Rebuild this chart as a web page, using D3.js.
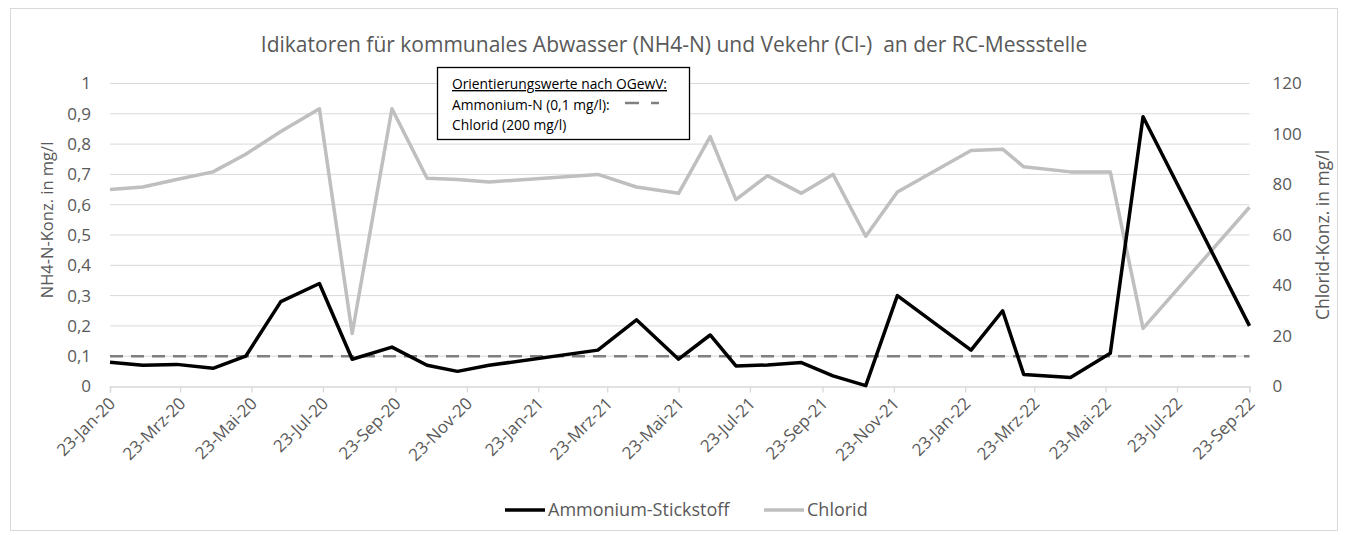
<!DOCTYPE html>
<html>
<head>
<meta charset="utf-8">
<script src="https://cdn.jsdelivr.net/npm/d3@7"></script>
<style>
  body { margin: 0; background: #fff; }
  svg text { font-family: "Open Sans", "Noto Sans", sans-serif; }
</style>
</head>
<body>
<svg id="chart"></svg>
<script>
// sampling dates
const dates = [
  "2020-01-23", "2020-02-20", "2020-03-20", "2020-04-20", "2020-05-18", "2020-06-17",
  "2020-07-20", "2020-08-17", "2020-09-20", "2020-10-20", "2020-11-15", "2020-12-12",
  "2021-03-15", "2021-04-17", "2021-05-23", "2021-06-19", "2021-07-11", "2021-08-07",
  "2021-09-05", "2021-10-02", "2021-10-30", "2021-11-26", "2022-01-28", "2022-02-24",
  "2022-03-14", "2022-04-23", "2022-05-27", "2022-06-24", "2022-09-23"
];
const ammonium = [
  0.08, 0.07, 0.073, 0.06, 0.1, 0.28,
  0.34, 0.09, 0.13, 0.07, 0.05, 0.07,
  0.12, 0.22, 0.09, 0.17, 0.068, 0.071,
  0.079, 0.035, 0.003, 0.3, 0.12, 0.25,
  0.04, 0.03, 0.11, 0.89, 0.2
];
const chlorid = [
  78, 79, 82, 85, 92, 101,
  110, 21, 110, 82.5, 82, 81,
  84, 79, 76.5, 99, 74, 83.5,
  76.5, 84, 59.5, 77, 93.5, 94,
  87, 85, 85, 23, 71
];
const xTickLabels = [
  "23-Jan-20", "23-Mrz-20", "23-Mai-20", "23-Jul-20", "23-Sep-20", "23-Nov-20",
  "23-Jan-21", "23-Mrz-21", "23-Mai-21", "23-Jul-21", "23-Sep-21", "23-Nov-21",
  "23-Jan-22", "23-Mrz-22", "23-Mai-22", "23-Jul-22", "23-Sep-22"
];
const leftTicks = [0, 0.1, 0.2, 0.3, 0.4, 0.5, 0.6, 0.7, 0.8, 0.9, 1];
const rightTicks = [0, 20, 40, 60, 80, 100, 120];
const guideValue = 0.1;

const svgWidth = 1347;
const svgHeight = 535;
const plot = { left: 110, right: 1249.5, top: 83.5, bottom: 386.5 };

const months = { Jan: 0, Feb: 1, Mrz: 2, Apr: 3, Mai: 4, Jun: 5, Jul: 6, Aug: 7, Sep: 8, Okt: 9, Nov: 10, Dez: 11 };
const parseTick = (s) => {
  const [d, m, y] = s.split("-");
  return new Date(2000 + +y, months[m], +d);
};
const parseDate = d3.timeParse("%Y-%m-%d");
const tickDates = xTickLabels.map(parseTick);

const svg = d3.select("#chart").attr("width", svgWidth).attr("height", svgHeight);

svg.append("rect")
  .attr("x", 10.5).attr("y", 8.5)
  .attr("width", 1327).attr("height", 522)
  .attr("fill", "#fff")
  .attr("stroke", "#d9d9d9");

const x = d3.scaleTime()
  .domain([tickDates[0], tickDates[tickDates.length - 1]])
  .range([plot.left, plot.right]);

const yLeft = d3.scaleLinear().domain([0, 1]).range([plot.bottom, plot.top]);
const yRight = d3.scaleLinear().domain([0, 120]).range([plot.bottom, plot.top]);

// gridlines
svg.append("g")
  .selectAll("line")
  .data(leftTicks.slice(1))
  .enter()
  .append("line")
  .attr("x1", plot.left).attr("x2", plot.right)
  .attr("y1", (d) => yLeft(d)).attr("y2", (d) => yLeft(d))
  .attr("stroke", "#d9d9d9")
  .attr("stroke-width", 1);

// x axis
const xAxis = svg.append("g")
  .attr("transform", `translate(0, ${plot.bottom})`)
  .call(d3.axisBottom(x).tickValues(tickDates).tickSize(6).tickFormat((d, i) => xTickLabels[i]));
xAxis.select(".domain").attr("stroke", "#d9d9d9").attr("stroke-width", 1.3);
xAxis.selectAll(".tick line").attr("stroke", "#d9d9d9").attr("stroke-width", 1.3);
xAxis.selectAll(".tick text")
  .attr("fill", "#595959")
  .style("font-size", "17px")
  .attr("text-anchor", "end")
  .attr("dy", null)
  .attr("y", 0)
  .attr("transform", "translate(6, 18) rotate(-45)");

// left axis
const leftAxis = svg.append("g")
  .attr("transform", `translate(${plot.left}, 0)`)
  .call(d3.axisLeft(yLeft).tickValues(leftTicks).tickSize(0).tickPadding(19)
    .tickFormat((d) => String(d).replace(".", ",")));
leftAxis.select(".domain").remove();
leftAxis.selectAll("text").attr("fill", "#595959").style("font-size", "17px");

// right axis
const rightAxis = svg.append("g")
  .attr("transform", `translate(${plot.right}, 0)`)
  .call(d3.axisRight(yRight).tickValues(rightTicks).tickSize(0).tickPadding(23));
rightAxis.select(".domain").remove();
rightAxis.selectAll("text").attr("fill", "#595959").style("font-size", "17px");

// axis titles
svg.append("text")
  .attr("transform", "translate(53, 220) rotate(-90)")
  .attr("text-anchor", "middle")
  .attr("fill", "#595959")
  .style("font-size", "16.5px")
  .text("NH4-N-Konz. in mg/l");

svg.append("text")
  .attr("transform", "translate(1329, 235) rotate(-90)")
  .attr("text-anchor", "middle")
  .attr("fill", "#595959")
  .style("font-size", "17.5px")
  .text("Chlorid-Konz. in mg/l");

// title
svg.append("text")
  .attr("x", 674).attr("y", 52)
  .attr("text-anchor", "middle")
  .attr("fill", "#595959")
  .style("font-size", "21px")
  .style("white-space", "pre")
  .text("Idikatoren für kommunales Abwasser (NH4-N) und Vekehr (Cl-)  an der RC-Messstelle");

// guide value line
svg.append("line")
  .attr("x1", plot.left).attr("x2", plot.right)
  .attr("y1", yLeft(guideValue)).attr("y2", yLeft(guideValue))
  .attr("stroke", "#7f7f7f")
  .attr("stroke-width", 2.5)
  .attr("stroke-dasharray", "13 8");

const pts = dates.map((d, i) => ({ date: parseDate(d), nh4: ammonium[i], cl: chlorid[i] }));

svg.append("path")
  .datum(pts)
  .attr("fill", "none")
  .attr("stroke", "#bfbfbf")
  .attr("stroke-width", 3.5)
  .attr("stroke-linejoin", "round")
  .attr("d", d3.line().x((d) => x(d.date)).y((d) => yRight(d.cl)));

svg.append("path")
  .datum(pts)
  .attr("fill", "none")
  .attr("stroke", "#000")
  .attr("stroke-width", 3.5)
  .attr("stroke-linejoin", "round")
  .attr("d", d3.line().x((d) => x(d.date)).y((d) => yLeft(d.nh4)));

// note box
const note = svg.append("g");
note.append("rect")
  .attr("x", 437.5).attr("y", 67.5)
  .attr("width", 252).attr("height", 72)
  .attr("fill", "#fff")
  .attr("stroke", "#000")
  .attr("stroke-width", 1.3);
note.append("text")
  .attr("x", 452).attr("y", 89)
  .style("font-size", "13.8px")
  .style("text-decoration", "underline")
  .attr("fill", "#000")
  .text("Orientierungswerte nach OGewV:");
note.append("text")
  .attr("x", 452).attr("y", 110)
  .style("font-size", "13.8px")
  .attr("fill", "#000")
  .text("Ammonium-N (0,1 mg/l):");
note.append("line")
  .attr("x1", 625).attr("x2", 659)
  .attr("y1", 103).attr("y2", 103)
  .attr("stroke", "#7f7f7f")
  .attr("stroke-width", 2.5)
  .attr("stroke-dasharray", "14 12");
note.append("text")
  .attr("x", 452).attr("y", 130)
  .style("font-size", "13.8px")
  .attr("fill", "#000")
  .text("Chlorid (200 mg/l)");

// legend
const legendItems = [
  { name: "Ammonium-Stickstoff", color: "#000", x: 505 },
  { name: "Chlorid", color: "#bfbfbf", x: 764 }
];
const legend = svg.append("g");
legendItems.forEach((item) => {
  legend.append("line")
    .attr("x1", item.x).attr("x2", item.x + 40)
    .attr("y1", 510).attr("y2", 510)
    .attr("stroke", item.color)
    .attr("stroke-width", 3.5);
  legend.append("text")
    .attr("x", item.x + 43).attr("y", 516)
    .attr("fill", "#595959")
    .style("font-size", "18px")
    .text(item.name);
});
</script>
</body>
</html>
